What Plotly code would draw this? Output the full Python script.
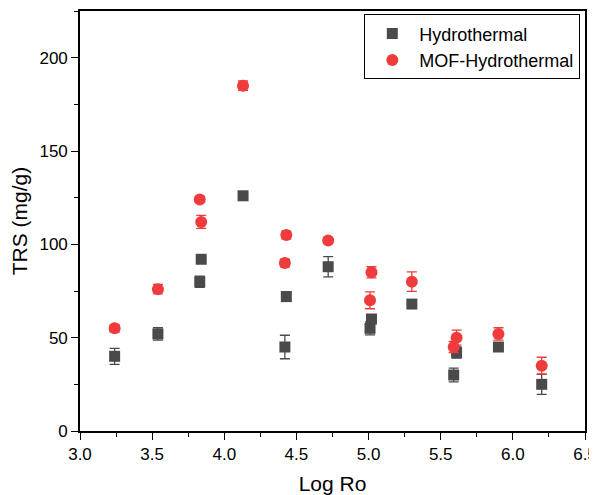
import plotly.graph_objects as go

# Hydrothermal (squares)
hydro_x = [3.24, 3.54, 3.83, 3.84, 4.13, 4.43, 4.42, 4.72, 5.01, 5.02, 5.30, 5.59, 5.61, 5.90, 6.20]
hydro_y = [40, 52, 80, 92, 126, 72, 45, 88, 55, 60, 68, 30, 42, 45, 25]
hydro_err = [4.3, 3.3, 3, 0, 0, 2.5, 6.3, 5.4, 3.5, 2, 0, 3.7, 3, 2, 5.4]

# MOF-Hydrothermal (circles)
mof_x = [3.24, 3.54, 3.83, 3.84, 4.13, 4.42, 4.43, 4.72, 5.01, 5.02, 5.30, 5.59, 5.61, 5.90, 6.20]
mof_y = [55, 76, 124, 112, 185, 90, 105, 102, 70, 85, 80, 45, 50, 52, 35]
mof_err = [2, 2.5, 1.5, 3.5, 2.5, 2, 2, 1.5, 4.5, 3, 5.2, 3, 4, 3.3, 4.5]

dark = "#4a4a4a"
red = "#ef3b3b"
font_family = "Liberation Sans, Arial"

fig = go.Figure()
fig.add_trace(go.Scatter(
    x=hydro_x, y=hydro_y, mode="markers", name="Hydrothermal",
    marker=dict(symbol="square", size=11, color=dark),
    error_y=dict(type="data", array=hydro_err, color=dark, thickness=1.3, width=5),
))
fig.add_trace(go.Scatter(
    x=mof_x, y=mof_y, mode="markers", name="MOF-Hydrothermal",
    marker=dict(symbol="circle", size=12, color=red),
    error_y=dict(type="data", array=mof_err, color=red, thickness=1.3, width=5),
))

axis_common = dict(
    showgrid=False, zeroline=False, showline=True, linecolor="black", linewidth=1.6,
    mirror=True, ticks="outside", ticklen=7, tickwidth=1.3, tickcolor="black",
    tickfont=dict(family=font_family, size=17, color="black"),
    automargin=False,
)

fig.update_xaxes(
    range=[3.0, 6.5], dtick=0.5, tickformat=".1f",
    title=dict(text="Log Ro", font=dict(family=font_family, size=21, color="black"), standoff=14),
    minor=dict(ticks="outside", ticklen=4, tickwidth=1.3, tickcolor="black", dtick=0.25),
    **axis_common,
)
fig.update_yaxes(
    range=[0, 225], tickvals=[0, 50, 100, 150, 200],
    title=dict(text="TRS (mg/g)", font=dict(family=font_family, size=21, color="black"), standoff=14),
    minor=dict(ticks="outside", ticklen=4, tickwidth=1.3, tickcolor="black", dtick=25),
    **axis_common,
)

# the page body adds an 8px margin, so the figure is drawn 8px smaller
fig.update_layout(
    width=589, height=487,
    margin=dict(l=72, r=12, t=3, b=64),
    plot_bgcolor="white", paper_bgcolor="white",
    legend=dict(
        x=0.563, y=0.992, xanchor="left", yanchor="top",
        bordercolor="black", borderwidth=1, bgcolor="white",
        font=dict(family=font_family, size=18, color="black"),
        itemwidth=44, tracegroupgap=0,
    ),
)

fig.write_html("out.html")
